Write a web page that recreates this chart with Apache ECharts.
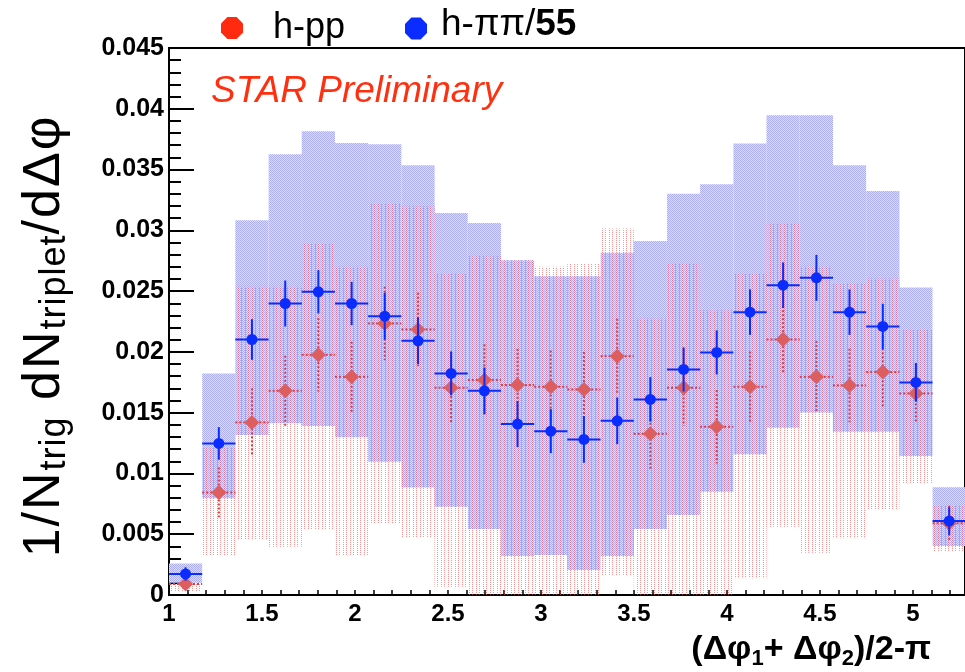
<!DOCTYPE html>
<html>
<head>
<meta charset="utf-8">
<script src="https://cdn.jsdelivr.net/npm/echarts@6/dist/echarts.min.js"></script>
<style>
  html, body { margin: 0; padding: 0; background: #ffffff; }
  #chart { width: 965px; height: 672px; }
</style>
</head>
<body>
<div id="chart"></div>
<script>
// Bin centres of (Δφ1+Δφ2)/2-π and the half bin width (x error)
const binCenters = [1.089, 1.268, 1.446, 1.625, 1.803, 1.982, 2.160, 2.339, 2.517, 2.696, 2.874, 3.053,
                    3.231, 3.410, 3.588, 3.767, 3.945, 4.124, 4.302, 4.481, 4.659, 4.838, 5.016, 5.195];
const binHalfWidth = 0.0893;

// h-pp : values, statistical errors, systematic band (low / high)
const ppValues  = [0.0009, 0.00844, 0.0142, 0.0168, 0.01976, 0.01795, 0.02234, 0.02185, 0.01705, 0.01768, 0.01727, 0.01713,
                   0.01691, 0.01965, 0.01326, 0.01705, 0.01384, 0.01713, 0.02102, 0.01795, 0.01724, 0.01834, 0.01658, 0.0059];
const ppStatErr = [0.0003, 0.00205, 0.0028, 0.00288, 0.00302, 0.00288, 0.00302, 0.00302, 0.00294, 0.00294, 0.00298, 0.00298,
                   0.00308, 0.00308, 0.00288, 0.00315, 0.00302, 0.0029, 0.00274, 0.00294, 0.00302, 0.00294, 0.00247, 0.00144];
const ppSysLow  = [0.00027, 0.00329, 0.00452, 0.00397, 0.00543, 0.00329, 0.0059, 0.00474, 0.00068, 0, 0, 0,
                   0, 0.00164, 0, 0, 0, 0.00137, 0.00562, 0.00348, 0.00466, 0.00705, 0.00918, 0.00356];
const ppSysHigh = [0.00101, 0.01214, 0.02535, 0.02535, 0.02892, 0.027, 0.03221, 0.03198, 0.0265, 0.02787, 0.02754, 0.027,
                   0.02727, 0.03015, 0.02275, 0.02727, 0.02343, 0.0265, 0.03056, 0.027, 0.02563, 0.02604, 0.02185, 0.0074];

// h-ππ/55 : values, statistical errors, systematic band (low / high)
const pipiValues  = [0.00173, 0.01247, 0.02102, 0.02398, 0.02494, 0.02398, 0.02294, 0.02091, 0.01823, 0.0168, 0.01406, 0.01348,
                     0.0128, 0.01433, 0.01609, 0.01856, 0.01996, 0.02327, 0.02549, 0.02609, 0.02327, 0.02209, 0.01749, 0.00608];
const pipiStatErr = [0.00055, 0.00134, 0.00167, 0.00189, 0.00178, 0.00178, 0.00192, 0.00192, 0.00181, 0.00192, 0.00189, 0.00181,
                     0.00192, 0.00192, 0.00183, 0.00181, 0.00181, 0.00187, 0.00187, 0.00189, 0.00187, 0.00187, 0.00159, 0.00113];
const pipiSysLow  = [0.00101, 0.00795, 0.01316, 0.01412, 0.0139, 0.01297, 0.01096, 0.00885, 0.00726, 0.00543, 0.00321, 0.00329,
                     0.00206, 0.00321, 0.00543, 0.00658, 0.00849, 0.01157, 0.01376, 0.01502, 0.01343, 0.01343, 0.01143, 0.00403];
const pipiSysHigh = [0.0026, 0.01823, 0.03083, 0.03626, 0.03815, 0.03719, 0.03708, 0.03536, 0.03143, 0.03061, 0.02754, 0.02623,
                     0.02623, 0.02815, 0.02913, 0.033, 0.03379, 0.03714, 0.03947, 0.03947, 0.03536, 0.03324, 0.0253, 0.00886];

const seriesNames = ['h-pp', 'h-ππ/55'];

const FONT = '"Liberation Sans", Arial, Helvetica, sans-serif';

// Small repeating fill patterns (dotted lavender, dotted vertical pink lines)
function makePattern(w, h, dots) {
  const c = document.createElement('canvas');
  c.width = w; c.height = h;
  const g = c.getContext('2d');
  dots.forEach(([x, y, col]) => { g.fillStyle = col; g.fillRect(x, y, 1, 1); });
  return c;
}
const lavenderFill = makePattern(2, 2, [[0, 0, '#adadf2'], [1, 1, '#adadf2'], [1, 0, '#dcdcfb'], [0, 1, '#dcdcfb']]);
const pinkLineFill = makePattern(7, 2, [[0, 0, 'rgba(238,80,80,0.6)'], [3, 0, 'rgba(238,80,80,0.6)']]);

function boxRenderer(fillImage) {
  return function (params, api) {
    const x = api.value(0), lo = api.value(1), hi = api.value(2);
    const p1 = api.coord([x - binHalfWidth, hi]);
    const p2 = api.coord([x + binHalfWidth, lo]);
    const cs = params.coordSys;
    const shape = echarts.graphic.clipRectByRect(
      { x: p1[0], y: p1[1], width: p2[0] - p1[0], height: p2[1] - p1[1] },
      { x: cs.x, y: cs.y, width: cs.width, height: cs.height });
    if (!shape) return null;
    return { type: 'rect', shape: shape, style: { fill: { image: fillImage, repeat: 'repeat' } } };
  };
}

function errorRenderer(color, dash) {
  return function (params, api) {
    const x = api.value(0), y = api.value(1), e = api.value(2);
    const top = api.coord([x, y + e]);
    const bot = api.coord([x, Math.max(0, y - e)]);
    const left = api.coord([Math.max(1, x - binHalfWidth), y]);
    const right = api.coord([x + binHalfWidth, y]);
    const style = { stroke: color, lineWidth: 2, lineDash: dash };
    return {
      type: 'group',
      children: [
        { type: 'line', shape: { x1: top[0], y1: top[1], x2: bot[0], y2: bot[1] }, style: style },
        { type: 'line', shape: { x1: left[0], y1: left[1], x2: right[0], y2: right[1] }, style: style }
      ]
    };
  };
}

// Rich-text helper: one token per character so the title gets slightly loose letter spacing
function spaced(str, styleName) {
  return str.split('').map(function (ch) { return '{' + styleName + '|' + ch + '}'; }).join('');
}

const octagon = 'path://M29,0 L71,0 L100,29 L100,71 L71,100 L29,100 L0,71 L0,29 Z';

const chart = echarts.init(document.getElementById('chart'), null, { renderer: 'canvas' });

chart.setOption({
  animation: false,
  backgroundColor: '#ffffff',
  grid: {
    left: 169, right: -2, top: 48, bottom: 77,
    show: true, borderColor: '#000', borderWidth: 2, backgroundColor: 'transparent'
  },
  xAxis: {
    type: 'value', min: 1, max: 5.28, interval: 0.1,
    axisLine: { lineStyle: { color: '#000', width: 2 } },
    axisTick: { inside: true, length: 5, lineStyle: { color: '#000', width: 1.5 } },
    splitLine: { show: false },
    axisLabel: {
      margin: 7, color: '#000', fontFamily: FONT, fontWeight: 'bold', fontSize: 24,
      showMaxLabel: false,
      formatter: function (v) {
        const twice = v * 2;
        return Math.abs(twice - Math.round(twice)) < 1e-6 ? String(Math.round(twice) / 2) : '';
      }
    }
  },
  yAxis: {
    type: 'value', min: 0, max: 0.045, interval: 0.005,
    axisLine: { lineStyle: { color: '#000', width: 2 } },
    axisTick: { inside: true, length: 25, lineStyle: { color: '#000', width: 2 } },
    minorTick: { show: true, splitNumber: 5, length: 12, lineStyle: { color: '#000', width: 2 } },
    splitLine: { show: false },
    axisLabel: { margin: 5, color: '#000', fontFamily: FONT, fontWeight: 'bold', fontSize: 25 }
  },
  legend: [
    {
      data: [{ name: seriesNames[0], icon: octagon, itemStyle: { color: '#ff2a10' } }],
      left: 221, top: 6, padding: 0, itemWidth: 22, itemHeight: 22,
      textStyle: { fontFamily: FONT, fontSize: 36, lineHeight: 36, color: '#000', padding: [0, 0, 8, 25] }
    },
    {
      data: [{ name: seriesNames[1], icon: octagon, itemStyle: { color: '#0a2cff' } }],
      left: 405, top: 6, padding: 0, itemWidth: 22, itemHeight: 22,
      formatter: function () { return '{n|h-ππ/}{b|55}'; },
      textStyle: {
        fontFamily: FONT, fontSize: 36, lineHeight: 36, color: '#000', padding: [0, 0, 8, 9],
        rich: {
          n: { fontFamily: FONT, fontSize: 37, color: '#000' },
          b: { fontFamily: FONT, fontSize: 37, fontWeight: 'bold', color: '#000' }
        }
      }
    }
  ],
  graphic: {
    elements: [
      {
        type: 'text', left: 211, top: 73, z: 50,
        style: {
          text: 'STAR Preliminary', fill: '#ff3010',
          font: 'italic 37px ' + FONT
        }
      },
      {
        type: 'text', x: 45, y: 336, rotation: Math.PI / 2, z: 50,
        style: {
          text: spaced('1/N', 'a') + spaced('trig', 's') + spaced(' dN', 'a') + spaced('triplet', 's') + spaced('/dΔφ', 'a'),
          align: 'center', verticalAlign: 'middle',
          rich: {
            a: { fontFamily: FONT, fontSize: 52, lineHeight: 56, padding: [0, 2, 0, 0], fill: '#000' },
            s: { fontFamily: FONT, fontSize: 36, lineHeight: 36, padding: [0, 1, 0, 0], verticalAlign: 'bottom', fill: '#000' }
          }
        }
      },
      {
        type: 'text', x: 931, y: 650, z: 50,
        style: {
          text: '{a|(Δφ}{s|1}{a|+ Δφ}{s|2}{a|)/2-π}',
          align: 'right', verticalAlign: 'middle',
          rich: {
            a: { fontFamily: FONT, fontSize: 34, fontWeight: 'bold', lineHeight: 40, fill: '#000' },
            s: { fontFamily: FONT, fontSize: 22, fontWeight: 'bold', lineHeight: 22, verticalAlign: 'bottom', fill: '#000' }
          }
        }
      }
    ]
  },
  series: [
    {
      name: 'pipi-sys', type: 'custom', z: 1,
      renderItem: boxRenderer(lavenderFill),
      encode: { x: 0, y: [1, 2] },
      data: binCenters.map((x, i) => [x, pipiSysLow[i], pipiSysHigh[i]])
    },
    {
      name: 'pp-sys', type: 'custom', z: 2,
      renderItem: boxRenderer(pinkLineFill),
      encode: { x: 0, y: [1, 2] },
      data: binCenters.map((x, i) => [x, ppSysLow[i], ppSysHigh[i]])
    },
    {
      name: 'pp-stat', type: 'custom', z: 3,
      renderItem: errorRenderer('#e23a3a', [2, 2]),
      encode: { x: 0, y: 1 },
      data: binCenters.map((x, i) => [x, ppValues[i], ppStatErr[i]])
    },
    {
      name: seriesNames[0], type: 'scatter', z: 4,
      symbol: 'diamond', symbolSize: [15, 15],
      itemStyle: { color: '#dc5e5e', opacity: 1 },
      data: binCenters.map((x, i) => [x, ppValues[i]])
    },
    {
      name: 'pipi-stat', type: 'custom', z: 5,
      renderItem: errorRenderer('#0a2cff', null),
      encode: { x: 0, y: 1 },
      data: binCenters.map((x, i) => [x, pipiValues[i], pipiStatErr[i]])
    },
    {
      name: seriesNames[1], type: 'scatter', z: 6,
      symbol: 'circle', symbolSize: 11,
      itemStyle: { color: '#0a2cff', opacity: 1 },
      data: binCenters.map((x, i) => [x, pipiValues[i]])
    }
  ]
});
</script>
</body>
</html>
